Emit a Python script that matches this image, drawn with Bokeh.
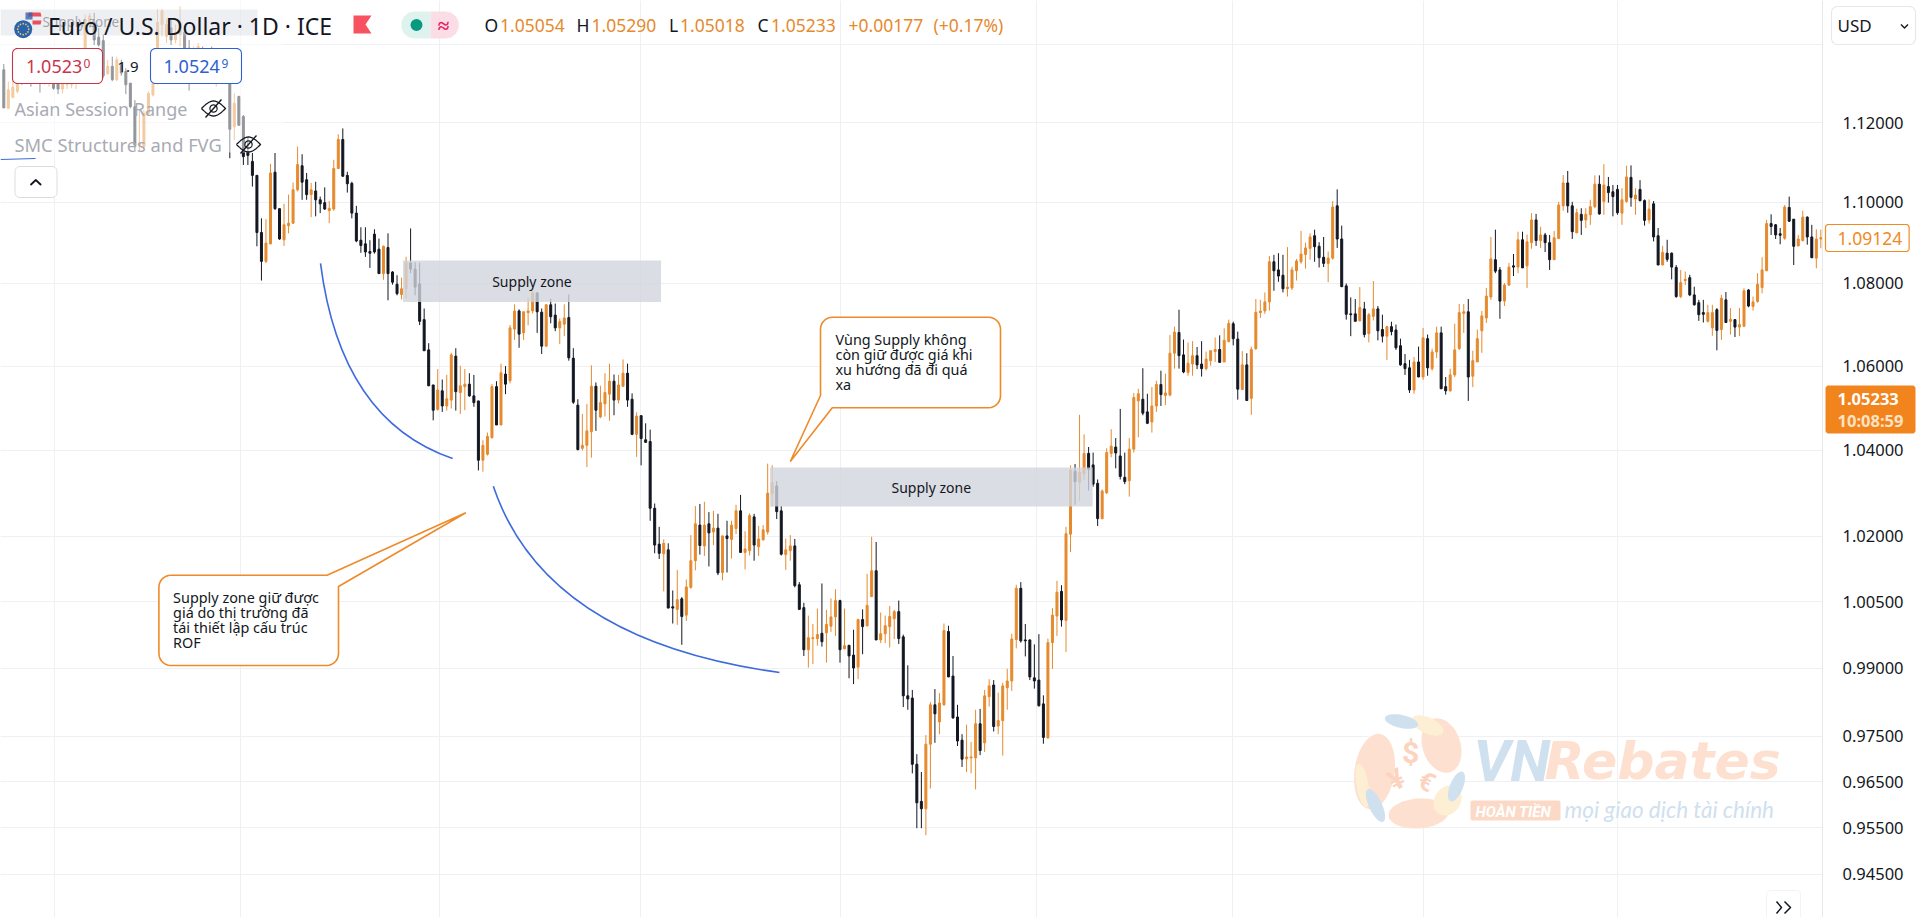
import math
from bokeh.plotting import figure
from bokeh.models import FixedTicker, PrintfTickFormatter, ColumnDataSource
from bokeh.core.properties import value
from bokeh.embed import file_html
from bokeh.resources import INLINE

# ---------- data ----------
opens = [
1.1334,1.1236,1.1264,1.1279,1.1330,1.1309,1.1321,1.1309,1.1321,1.1305,
1.1300,1.1313,1.1309,1.1285,1.1296,1.1296,1.1300,1.1317,1.1368,1.1456,
1.1456,1.1418,1.1409,1.1324,1.1343,1.1309,1.1347,1.1330,1.1300,1.1240,
1.1143,1.1139,1.1223,1.1270,1.1300,1.1451,1.1420,1.1442,1.1411,1.1425,
1.1431,1.1390,1.1364,1.1377,1.1386,1.1351,1.1377,1.1330,1.1343,1.1334,
1.1343,1.1189,1.1266,1.1215,1.1127,1.1102,1.1067,1.0925,1.0854,1.0897,
1.1075,1.0984,1.0907,1.0942,1.0948,1.1031,1.1091,1.1056,1.1019,1.1028,
1.1006,1.0999,1.0979,1.0983,1.1084,1.1157,1.1067,1.1047,1.0973,1.0906,
1.0897,1.0878,1.0921,1.0884,1.0824,1.0888,1.0828,1.0798,1.0773,1.0787,
1.0850,1.0835,1.0799,1.0712,1.0639,1.0555,1.0497,1.0541,1.0505,1.0519,
1.0624,1.0537,1.0551,1.0557,1.0529,1.0517,1.0377,1.0391,1.0430,1.0551,
1.0460,1.0581,1.0565,1.0689,1.0733,1.0680,1.0729,1.0733,1.0777,1.0730,
1.0648,1.0748,1.0723,1.0692,1.0701,1.0717,1.0619,1.0507,1.0405,1.0412,
1.0444,1.0552,1.0479,1.0510,1.0533,1.0564,1.0519,1.0552,1.0583,1.0521,
1.0438,1.0482,1.0425,1.0421,1.0265,1.0182,1.0160,1.0169,1.0039,1.0033,
1.0057,1.0020,1.0083,1.0144,1.0226,1.0178,1.0229,1.0210,1.0219,1.0117,
1.0201,1.0193,1.0218,1.0259,1.0163,1.0167,1.0245,1.0176,1.0192,1.0210,
1.0299,1.0317,1.0259,1.0158,1.0167,1.0178,1.0089,1.0037,0.9942,0.9967,
0.9967,0.9979,0.9980,0.9995,1.0016,1.0053,0.9944,0.9952,0.9930,0.9903,
1.0010,0.9996,1.0062,1.0121,0.9964,0.9978,0.9994,1.0012,1.0028,0.9971,
0.9839,0.9834,0.9688,0.9607,0.9591,0.9732,0.9819,0.9781,0.9819,0.9983,
0.9883,0.9792,0.9741,0.9700,0.9702,0.9702,0.9777,0.9735,0.9837,0.9863,
0.9772,0.9784,0.9857,0.9872,0.9965,1.0081,0.9964,0.9964,0.9879,0.9874,
0.9821,0.9746,0.9958,1.0018,1.0074,1.0008,1.0205,1.0351,1.0325,1.0345,
1.0393,1.0366,1.0323,1.0241,1.0301,1.0393,1.0408,1.0387,1.0337,1.0329,
1.0403,1.0517,1.0521,1.0491,1.0467,1.0505,1.0556,1.0530,1.0531,1.0631,
1.0681,1.0627,1.0585,1.0605,1.0625,1.0605,1.0594,1.0613,1.0635,1.0640,
1.0610,1.0659,1.0702,1.0665,1.0544,1.0603,1.0523,1.0642,1.0729,1.0733,
1.0755,1.0853,1.0833,1.0820,1.0787,1.0789,1.0831,1.0853,1.0871,1.0886,
1.0917,1.0891,1.0864,1.0849,1.0862,1.0991,1.0909,1.0794,1.0726,1.0726,
1.0709,1.0738,1.0678,1.0720,1.0738,1.0688,1.0672,1.0695,1.0687,1.0649,
1.0606,1.0596,1.0543,1.0610,1.0574,1.0666,1.0594,1.0634,1.0680,1.0551,
1.0541,1.0579,1.0642,1.0727,1.0731,1.0576,1.0610,1.0685,1.0716,1.0767,
1.0858,1.0833,1.0757,1.0796,1.0843,1.0840,1.0907,1.0843,1.0900,1.0956,
1.0905,1.0919,1.0900,1.0858,1.0910,1.0991,1.1048,1.0991,1.0924,1.0970,
1.0956,1.0969,1.0989,1.1045,1.1002,1.1039,1.1026,1.1032,1.0973,1.1002,
1.1062,1.1008,1.1032,1.1004,1.0956,1.0996,1.0917,1.0845,1.0874,1.0874,
1.0839,1.0768,1.0807,1.0814,1.0772,1.0753,1.0729,1.0708,1.0692,1.0736,
1.0688,1.0760,1.0708,1.0712,1.0694,1.0696,1.0784,1.0744,1.0756,1.0790,
1.0831,1.0947,1.0944,1.0922,1.0911,1.0987,1.0958,1.0892,1.0905,1.0963,
1.0914,1.0862,1.0909]
highs = [
1.1349,1.1304,1.1309,1.1313,1.1343,1.1338,1.1334,1.1338,1.1334,1.1343,
1.1330,1.1326,1.1321,1.1321,1.1321,1.1334,1.1343,1.1386,1.1477,1.1481,
1.1481,1.1442,1.1425,1.1360,1.1368,1.1368,1.1360,1.1338,1.1300,1.1257,
1.1232,1.1232,1.1279,1.1304,1.1490,1.1491,1.1464,1.1464,1.1451,1.1498,
1.1438,1.1411,1.1394,1.1403,1.1394,1.1390,1.1394,1.1368,1.1364,1.1373,
1.1351,1.1274,1.1268,1.1219,1.1163,1.1123,1.1067,1.0960,1.0958,1.1096,
1.1123,1.0984,1.0996,1.1019,1.1049,1.1139,1.1120,1.1073,1.1048,1.1051,
1.1014,1.1037,1.1003,1.1106,1.1170,1.1185,1.1076,1.1051,1.0991,1.0938,
1.0938,1.0906,1.0933,1.0910,1.0893,1.0923,1.0830,1.0820,1.0814,1.0865,
1.0935,1.0852,1.0851,1.0739,1.0655,1.0555,1.0593,1.0568,1.0579,1.0632,
1.0643,1.0601,1.0593,1.0583,1.0579,1.0517,1.0424,1.0442,1.0557,1.0564,
1.0606,1.0600,1.0699,1.0749,1.0737,1.0731,1.0765,1.0789,1.0777,1.0739,
1.0749,1.0763,1.0751,1.0715,1.0749,1.0773,1.0643,1.0521,1.0486,1.0510,
1.0602,1.0561,1.0553,1.0583,1.0606,1.0580,1.0579,1.0616,1.0606,1.0535,
1.0490,1.0482,1.0464,1.0449,1.0276,1.0222,1.0193,1.0184,1.0076,1.0123,
1.0061,1.0101,1.0203,1.0270,1.0275,1.0280,1.0256,1.0259,1.0252,1.0201,
1.0236,1.0236,1.0273,1.0296,1.0212,1.0253,1.0252,1.0224,1.0226,1.0369,
1.0365,1.0328,1.0270,1.0195,1.0203,1.0194,1.0095,1.0048,1.0019,1.0000,
1.0035,1.0092,1.0032,1.0058,1.0079,1.0055,1.0035,0.9952,0.9987,1.0012,
1.0033,1.0114,1.0199,1.0187,1.0026,1.0019,1.0041,1.0032,1.0053,0.9976,
0.9907,0.9852,0.9710,0.9671,0.9752,0.9825,0.9854,0.9845,1.0001,0.9996,
0.9928,0.9819,0.9754,0.9775,0.9737,0.9808,0.9810,0.9852,0.9876,0.9874,
0.9846,0.9868,0.9899,0.9978,1.0089,1.0095,1.0000,0.9965,0.9954,0.9977,
0.9840,0.9967,1.0036,1.0098,1.0088,1.0222,1.0365,1.0368,1.0484,1.0438,
1.0408,1.0395,1.0332,1.0309,1.0405,1.0450,1.0429,1.0498,1.0395,1.0429,
1.0536,1.0546,1.0595,1.0534,1.0550,1.0565,1.0589,1.0582,1.0675,1.0695,
1.0736,1.0664,1.0657,1.0660,1.0646,1.0660,1.0635,1.0637,1.0669,1.0674,
1.0691,1.0712,1.0707,1.0683,1.0636,1.0631,1.0647,1.0762,1.0760,1.0778,
1.0867,1.0870,1.0874,1.0870,1.0889,1.0841,1.0860,1.0929,1.0900,1.0923,
1.0932,1.0901,1.0914,1.0878,1.1003,1.1032,1.0942,1.0800,1.0766,1.0762,
1.0791,1.0755,1.0728,1.0806,1.0745,1.0724,1.0697,1.0707,1.0700,1.0666,
1.0629,1.0615,1.0622,1.0647,1.0692,1.0676,1.0642,1.0695,1.0695,1.0574,
1.0594,1.0702,1.0750,1.0750,1.0762,1.0637,1.0688,1.0733,1.0789,1.0914,
1.0932,1.0840,1.0801,1.0850,1.0872,1.0927,1.0927,1.0920,1.0973,1.0971,
1.0939,1.0924,1.0919,1.0929,1.1001,1.1068,1.1078,1.1001,1.0984,1.0985,
1.0985,1.1006,1.1067,1.1067,1.1095,1.1063,1.1043,1.1043,1.1035,1.1091,
1.1092,1.1035,1.1055,1.1007,1.1007,1.1003,1.0936,1.0892,1.0907,1.0876,
1.0845,1.0833,1.0829,1.0821,1.0792,1.0760,1.0760,1.0748,1.0748,1.0740,
1.0772,1.0779,1.0740,1.0712,1.0740,1.0788,1.0786,1.0768,1.0825,1.0864,
1.0956,1.0970,1.0946,1.0936,1.0993,1.1014,1.0958,1.0919,1.0979,1.0965,
1.0944,1.0933,1.0932]
lows = [
1.1237,1.1234,1.1261,1.1274,1.1296,1.1300,1.1291,1.1300,1.1276,1.1296,
1.1291,1.1283,1.1272,1.1274,1.1285,1.1287,1.1285,1.1313,1.1364,1.1442,
1.1398,1.1394,1.1313,1.1321,1.1305,1.1305,1.1319,1.1272,1.1236,1.1131,
1.1127,1.1138,1.1219,1.1266,1.1296,1.1420,1.1403,1.1398,1.1402,1.1394,
1.1386,1.1281,1.1351,1.1360,1.1343,1.1330,1.1330,1.1291,1.1321,1.1326,
1.1110,1.1156,1.1192,1.1093,1.1093,1.1039,1.0891,1.0807,1.0850,1.0896,
1.0981,1.0907,1.0892,1.0923,1.0946,1.1027,1.1006,1.1006,1.0963,1.0965,
1.0973,1.0981,1.0948,1.0979,1.1083,1.1063,1.1024,1.0960,1.0901,1.0875,
1.0865,1.0838,1.0873,1.0824,1.0809,1.0759,1.0797,1.0771,1.0761,1.0763,
1.0825,1.0771,1.0699,1.0637,1.0553,1.0471,1.0494,1.0491,1.0494,1.0499,
1.0494,1.0486,1.0495,1.0527,1.0503,1.0353,1.0350,1.0388,1.0428,1.0460,
1.0460,1.0533,1.0559,1.0663,1.0644,1.0663,1.0698,1.0727,1.0680,1.0629,
1.0647,1.0703,1.0684,1.0653,1.0672,1.0613,1.0510,1.0400,1.0400,1.0361,
1.0383,1.0446,1.0476,1.0480,1.0470,1.0483,1.0511,1.0551,1.0503,1.0436,
1.0385,1.0365,1.0418,1.0236,1.0161,1.0148,1.0074,1.0036,1.0001,0.9998,
0.9953,1.0007,1.0080,1.0122,1.0158,1.0155,1.0131,1.0180,1.0111,1.0099,
1.0117,1.0149,1.0205,1.0163,1.0124,1.0156,1.0144,1.0155,1.0190,1.0204,
1.0269,1.0240,1.0156,1.0123,1.0144,1.0083,1.0033,0.9928,0.9902,0.9910,
0.9951,0.9949,0.9913,0.9982,0.9973,0.9913,0.9943,0.9878,0.9865,0.9876,
0.9932,0.9994,1.0062,0.9964,0.9957,0.9957,0.9947,0.9966,0.9955,0.9814,
0.9808,0.9668,0.9549,0.9549,0.9534,0.9635,0.9735,0.9754,0.9817,0.9881,
0.9788,0.9728,0.9682,0.9671,0.9668,0.9633,0.9708,0.9715,0.9815,0.9760,
0.9754,0.9707,0.9808,0.9850,0.9945,0.9958,0.9927,0.9874,0.9855,0.9815,
0.9733,0.9744,0.9899,0.9973,0.9994,0.9937,1.0164,1.0273,1.0282,1.0331,
1.0306,1.0315,1.0224,1.0239,1.0298,1.0384,1.0358,1.0332,1.0321,1.0292,
1.0395,1.0431,1.0483,1.0462,1.0442,1.0491,1.0505,1.0507,1.0528,1.0594,
1.0594,1.0583,1.0577,1.0577,1.0593,1.0575,1.0590,1.0601,1.0610,1.0609,
1.0610,1.0657,1.0650,1.0520,1.0544,1.0518,1.0484,1.0639,1.0716,1.0726,
1.0734,1.0782,1.0804,1.0778,1.0768,1.0784,1.0807,1.0848,1.0836,1.0858,
1.0853,1.0839,1.0840,1.0803,1.0858,1.0887,1.0792,1.0712,1.0672,1.0708,
1.0708,1.0669,1.0657,1.0710,1.0662,1.0657,1.0615,1.0674,1.0639,1.0601,
1.0579,1.0536,1.0534,1.0574,1.0567,1.0577,1.0589,1.0619,1.0546,1.0532,
1.0539,1.0574,1.0639,1.0680,1.0517,1.0550,1.0610,1.0632,1.0704,1.0760,
1.0825,1.0714,1.0745,1.0794,1.0818,1.0825,1.0838,1.0789,1.0885,1.0892,
1.0887,1.0877,1.0833,1.0858,1.0910,1.0979,1.0974,1.0909,1.0924,1.0919,
1.0936,1.0944,1.0985,1.0969,1.0969,1.0999,1.0965,1.0969,1.0944,1.0999,
1.0989,1.0969,1.1002,1.0942,1.0947,1.0903,1.0845,1.0845,1.0853,1.0810,
1.0765,1.0764,1.0796,1.0769,1.0746,1.0709,1.0705,1.0705,1.0673,1.0638,
1.0663,1.0705,1.0676,1.0670,1.0672,1.0694,1.0742,1.0734,1.0753,1.0776,
1.0830,1.0919,1.0909,1.0896,1.0907,1.0951,1.0845,1.0891,1.0903,1.0895,
1.0862,1.0837,1.0886]
closes = [
1.1237,1.1283,1.1290,1.1300,1.1305,1.1330,1.1305,1.1321,1.1300,1.1330,
1.1317,1.1287,1.1285,1.1300,1.1309,1.1313,1.1321,1.1368,1.1464,1.1473,
1.1411,1.1398,1.1319,1.1343,1.1309,1.1360,1.1326,1.1296,1.1240,1.1143,
1.1148,1.1223,1.1274,1.1300,1.1456,1.1486,1.1451,1.1411,1.1429,1.1456,
1.1390,1.1368,1.1386,1.1394,1.1360,1.1377,1.1343,1.1347,1.1351,1.1360,
1.1183,1.1249,1.1193,1.1114,1.1117,1.1067,1.0925,1.0854,1.0899,1.1073,
1.0984,1.0909,1.0944,1.0948,1.1031,1.1094,1.1050,1.1019,1.1031,1.1006,
1.0996,1.0983,1.0985,1.1084,1.1157,1.1065,1.1046,1.0973,1.0904,1.0893,
1.0877,1.0874,1.0877,1.0824,1.0891,1.0824,1.0803,1.0775,1.0787,1.0852,
1.0835,1.0791,1.0708,1.0637,1.0553,1.0495,1.0543,1.0505,1.0522,1.0627,
1.0539,1.0553,1.0557,1.0529,1.0513,1.0377,1.0412,1.0433,1.0551,1.0460,
1.0584,1.0557,1.0692,1.0733,1.0677,1.0731,1.0733,1.0777,1.0731,1.0648,
1.0748,1.0719,1.0692,1.0707,1.0716,1.0620,1.0514,1.0402,1.0412,1.0446,
1.0552,1.0495,1.0513,1.0537,1.0564,1.0519,1.0555,1.0583,1.0519,1.0438,
1.0481,1.0428,1.0419,1.0265,1.0180,1.0161,1.0184,1.0036,1.0036,1.0055,
1.0017,1.0084,1.0144,1.0229,1.0179,1.0226,1.0208,1.0219,1.0116,1.0201,
1.0195,1.0226,1.0259,1.0163,1.0171,1.0248,1.0180,1.0194,1.0215,1.0300,
1.0324,1.0257,1.0159,1.0169,1.0178,1.0087,1.0033,0.9942,0.9969,0.9969,
0.9976,0.9960,0.9999,1.0016,1.0053,0.9942,0.9951,0.9928,0.9901,1.0010,
0.9994,1.0042,1.0121,0.9964,0.9978,0.9996,1.0017,1.0028,0.9967,0.9839,
0.9832,0.9688,0.9604,0.9591,0.9732,0.9819,0.9799,0.9823,0.9985,0.9881,
0.9790,0.9739,0.9699,0.9704,0.9704,0.9777,0.9718,0.9839,0.9861,0.9771,
0.9784,0.9861,0.9872,0.9966,1.0081,0.9962,0.9962,0.9881,0.9872,0.9817,
0.9747,0.9958,1.0020,1.0072,1.0009,1.0206,1.0354,1.0327,1.0349,1.0393,
1.0356,1.0321,1.0241,1.0305,1.0395,1.0410,1.0394,1.0339,1.0327,1.0403,
1.0525,1.0534,1.0488,1.0464,1.0505,1.0556,1.0532,1.0536,1.0631,1.0682,
1.0625,1.0586,1.0607,1.0625,1.0603,1.0594,1.0617,1.0637,1.0640,1.0609,
1.0662,1.0703,1.0666,1.0545,1.0603,1.0518,1.0640,1.0730,1.0733,1.0755,
1.0853,1.0831,1.0818,1.0787,1.0791,1.0833,1.0855,1.0872,1.0887,1.0914,
1.0890,1.0863,1.0849,1.0862,1.0988,1.0909,1.0792,1.0725,1.0724,1.0708,
1.0741,1.0676,1.0724,1.0738,1.0685,1.0672,1.0695,1.0683,1.0644,1.0603,
1.0594,1.0543,1.0610,1.0574,1.0668,1.0596,1.0634,1.0680,1.0546,1.0541,
1.0579,1.0639,1.0729,1.0731,1.0574,1.0613,1.0666,1.0721,1.0769,1.0860,
1.0830,1.0757,1.0796,1.0840,1.0840,1.0907,1.0838,1.0902,1.0956,1.0905,
1.0919,1.0900,1.0858,1.0912,1.0993,1.1048,1.0991,1.0927,1.0974,1.0955,
1.0970,1.0989,1.1045,1.0971,1.1043,1.1024,1.1014,1.0974,1.1006,1.1063,
1.1012,1.1018,1.1004,1.0955,1.0983,1.0914,1.0845,1.0876,1.0859,1.0840,
1.0768,1.0802,1.0810,1.0772,1.0748,1.0724,1.0725,1.0729,1.0729,1.0686,
1.0764,1.0705,1.0713,1.0694,1.0700,1.0782,1.0745,1.0755,1.0798,1.0833,
1.0947,1.0940,1.0919,1.0918,1.0988,1.0953,1.0891,1.0909,1.0963,1.0914,
1.0863,1.0909,1.0912]

price_ticks = [1.12, 1.10, 1.08, 1.06, 1.04, 1.02, 1.005, 0.99, 0.975, 0.965, 0.955, 0.945]
grid_prices = [1.14] + price_ticks
date_grid = [11.2, 52.4, 96.4, 140.9, 185.1, 228.5, 271.8, 314.1, 357.0]

zone_left = [88.3, 169.5]
zone_right = [145.4, 240.9]
zone_top = [1.0856, 1.0360]
zone_bottom = [1.0755, 1.0269]
zone_label_x = [116.85, 205.2]
zone_label_y = [1.0805, 1.0314]
zone_labels = ["Supply zone", "Supply zone"]

curve_start_x = [70.07, 108.3]
curve_start_y = [1.0849, 1.0316]
curve_ctrl_x = [74.5, 119.8]
curve_ctrl_y = [1.0471, 0.9963]
curve_end_x = [99.3, 171.6]
curve_end_y = [1.0381, 0.9891]

callout1_lines = ["Supply zone giữ được", "giá do thị trường đã", "tái thiết lập cấu trúc", "ROF"]
callout2_lines = ["Vùng Supply không", "còn giữ được giá khi", "xu hướng đã đi quá", "xa"]

assert len(opens) == len(highs) == len(lows) == len(closes), (len(opens), len(highs), len(lows), len(closes))

# ---------- page geometry: arguments of X/Y are pixels of the 1919x917 shot ----------
AXIS_X = 1822
PAGE_W, PAGE_H = 1919, 917
I0, STEP = 3.3, 4.52
def X(px): return (px - I0) / STEP
def Y(py): return 1.12 * math.exp(-(py - 122) / 4425)

UP = "#E68A2E"
DOWN = "#131722"
FONT = "Noto Sans"

p = figure(width=PAGE_W, height=PAGE_H, output_backend="svg", toolbar_location=None,
           x_range=(X(0), X(PAGE_W)), y_range=(Y(PAGE_H), Y(0)),
           y_axis_type="log", y_axis_location="right",
           min_border_left=0, min_border_top=0, min_border_bottom=0, min_border_right=0,
           background_fill_color="white", border_fill_color="white", outline_line_color=None)

p.xaxis.visible = False
p.xgrid.ticker = FixedTicker(ticks=date_grid)
p.xgrid.grid_line_color = "#eff0f3"
p.ygrid.ticker = FixedTicker(ticks=grid_prices)
p.ygrid.grid_line_color = "#eff0f3"
ax = p.yaxis[0]
ax.fixed_location = X(AXIS_X)
ax.ticker = FixedTicker(ticks=price_ticks)
ax.formatter = PrintfTickFormatter(format="%.5f")
ax.major_tick_line_color = None
ax.minor_tick_line_color = None
ax.axis_line_color = "#e6e8ec"
ax.major_label_standoff = 14
ax.major_label_text_font = FONT
ax.major_label_text_font_size = "16.5px"
ax.major_label_text_color = "#131722"

idx = list(range(len(opens)))
colors = [UP if c >= o else DOWN for o, c in zip(opens, closes)]
src = ColumnDataSource(dict(x=idx, o=opens, h=highs, l=lows, c=closes, color=colors,
                            top=[max(a, b) for a, b in zip(opens, closes)],
                            bot=[min(a, b) for a, b in zip(opens, closes)]))
p.segment("x", "h", "x", "l", source=src, line_color="color", line_width=1)
p.vbar(x="x", top="top", bottom="bot", width=0.44, source=src, fill_color="color",
       line_color="color", line_width=1)

# the price-scale strip hides the grid right of the axis
p.quad(left=[X(AXIS_X)], right=[X(PAGE_W)], top=[Y(0)], bottom=[Y(PAGE_H)], fill_color="white", line_color=None)

p.quad(left=zone_left, right=zone_right, top=zone_top, bottom=zone_bottom,
       fill_color="#d1d4dc", fill_alpha=0.8, line_color=None)
p.text(zone_label_x, zone_label_y, text=zone_labels, text_font=value(FONT), text_font_size="14px",
       text_color="#131722", text_align="center", text_baseline="middle")

p.quadratic(x0=curve_start_x, y0=curve_start_y, x1=curve_end_x, y1=curve_end_y,
            cx=curve_ctrl_x, cy=curve_ctrl_y, line_color="#3D6BDC", line_width=1.6)

# ---------- helpers for overlay shapes, all given in shot pixels ----------
def T(px, py, s, color="#131722", size="14px", font=FONT, align="left", style="normal", alpha=1.0, angle=0.0):
    p.text([X(px)], [Y(py)], text=[s], text_font=value(font), text_font_size=size, text_color=color,
           text_align=align, text_baseline="middle", text_font_style=style, text_alpha=alpha, angle=angle)

def corner(cx, cy, r, a0, a1, n=7):
    return [(cx + r * math.cos(math.radians(a0 + (a1 - a0) * k / n)),
             cy + r * math.sin(math.radians(a0 + (a1 - a0) * k / n))) for k in range(n + 1)]

def rrect(l, t, r, b, rad):
    return (corner(l + rad, t + rad, rad, 180, 270) + corner(r - rad, t + rad, rad, 270, 360) +
            corner(r - rad, b - rad, rad, 0, 90) + corner(l + rad, b - rad, rad, 90, 180))

def shape(pts, fill="white", line=None, width=1.0, alpha=1.0):
    pts = pts + [pts[0]]
    p.patch([X(a) for a, _ in pts], [Y(b) for _, b in pts], fill_color=fill, fill_alpha=alpha,
            line_color=line, line_width=width)

def ell(cx, cy, rx, ry, rot=0.0, n=36):
    c, s = math.cos(math.radians(rot)), math.sin(math.radians(rot))
    out = []
    for k in range(n):
        a = 2 * math.pi * k / n
        ex, ey = rx * math.cos(a), ry * math.sin(a)
        out.append((cx + ex * c - ey * s, cy + ex * s + ey * c))
    return out

def pline(pts, color="#131722", width=1.4):
    p.line([X(a) for a, _ in pts], [Y(b) for _, b in pts], line_color=color, line_width=width, line_join="round")

# ---------- callouts ----------
ORANGE_LINE = "#EE8A2A"
c1 = (corner(158.4 + 12, 574.7 + 12, 12, 180, 270) + [(326.5, 574.7), (465.3, 512.3), (338, 586)] +
      corner(338 - 12, 665 - 12, 12, 0, 90) + corner(158.4 + 12, 665 - 12, 12, 90, 180))
shape(c1, line=ORANGE_LINE, width=1.6)
for k, s in enumerate(callout1_lines):
    T(172.6, 596.7 + 15 * k, s, size="14.4px")

c2 = (corner(820 + 12, 316.7 + 12, 12, 180, 270) + corner(1000 - 12, 316.7 + 12, 12, 270, 360) +
      corner(1000 - 12, 407.3 - 12, 12, 0, 90) + [(831.8, 407.3), (789.8, 461), (820, 395)])
shape(c2, line=ORANGE_LINE, width=1.6)
for k, s in enumerate(callout2_lines):
    T(835, 339 + 15 * k, s, size="14.4px")

# ---------- top-left legend: wash over the candles ----------
p.quad(left=[X(0)], right=[X(284)], top=[Y(0)], bottom=[Y(152)], fill_color="white", fill_alpha=0.55, line_color=None)
p.quad(left=[X(0)], right=[X(257)], top=[Y(9)], bottom=[Y(35)], fill_color="#d1d4dc", fill_alpha=0.38, line_color=None)
pline([(0, 159), (35, 158)], "#3D6BDC", 1.2)
T(42, 21, "Supply zone", color="#8f939c", size="13.5px", alpha=0.8)

# flags
p.scatter([X(32.5)], [Y(19.5)], size=17, fill_color="#e8edf6", line_color=None)
shape([(28, 12), (40, 12), (41, 16), (28, 16)], fill="#e8505b")
shape([(32, 20), (41, 20), (40, 24), (32, 24)], fill="#e8505b")
shape([(25, 12), (32, 12), (32, 19), (25, 19)], fill="#3b5fa8", alpha=0.8)
p.scatter([X(22.7)], [Y(28.7)], size=18, fill_color="#2962AE", line_color=None)
for k in range(12):
    a = 2 * math.pi * k / 12
    p.scatter([X(22.7 + 5.5 * math.cos(a))], [Y(28.7 + 5.5 * math.sin(a))], size=1.7, fill_color="#F2C94C", line_color=None)

T(47.5, 25, "Euro / U.S. Dollar · 1D · ICE", size="23px")
shape([(353, 15), (371, 15), (365, 24), (371, 33), (353, 33)], fill="#F7525F")

# status pill
shape(corner(414, 24.5, 13.5, 90, 270) + [(430, 11), (430, 38)], fill="#DFF3EE")
shape([(430, 11)] + corner(445, 24.5, 13.5, 270, 450) + [(430, 38)], fill="#FBDDE6")
p.scatter([X(416)], [Y(24.5)], size=12, fill_color="#089981", line_color=None)
T(443, 24, "≈", color="#E91E63", size="21px", align="center", style="bold")

# OHLC row
for px, s, col in [(484, "O", DOWN), (499.5, "1.05054", UP), (576, "H", DOWN), (591, "1.05290", UP),
                   (668.5, "L", DOWN), (679.5, "1.05018", UP), (757, "C", DOWN), (770.5, "1.05233", UP),
                   (848, "+0.00177", UP), (933, "(+0.17%)", UP)]:
    T(px, 24.5, s, color=col, size="17.5px")

# price chips
shape(rrect(12, 48, 102, 83, 5), line="#C9344A", width=1.1)
T(25.5, 65.5, "1.0523", color="#C9344A", size="18px")
T(83, 63, "0", color="#C9344A", size="12px")
shape(rrect(150, 48, 241, 83, 5), line="#2F5FD0", width=1.1)
T(163, 65.5, "1.0524", color="#2F5FD0", size="18px")
T(221, 63, "9", color="#2F5FD0", size="12px")
T(117, 66, "1.9", size="15px")

def eye(cx, cy):
    top = [(cx + 12 * k / 8, cy - 7.5 * math.cos(math.pi * k / 16)) for k in range(-8, 9)]
    bot = [(cx + 12 * k / 8, cy + 7.5 * math.cos(math.pi * k / 16)) for k in range(8, -9, -1)]
    pline(top + bot, width=1.3)
    pline(ell(cx, cy, 3.6, 3.6) + [(cx + 3.6, cy)], width=1.2)
    pline([(cx - 8, cy + 9), (cx + 8, cy - 9)], width=1.4)

T(14, 108, "Asian Session Range", color="#A8ABB3", size="18px")
eye(213, 108)
T(14, 144, "SMC Structures and FVG", color="#A8ABB3", size="18.3px")
eye(248, 144)

shape(rrect(14.5, 166, 56.5, 197, 5), line="#DADCE2", width=1.0)
pline([(30, 184.5), (35.3, 179.5), (40.6, 184.5)], width=1.8)

# bottom-right scroll button
shape(rrect(1766, 890, 1800, 930, 4), line="#F2F3F5", width=1.0)
pline([(1776, 901), (1781, 907), (1776, 913)], width=1.5)
pline([(1784, 901), (1790, 907), (1784, 913)], width=1.5)

# ---------- watermark ----------
PEACH = "#FDE0CF"
BLUE = "#CFE0EF"
YEL = "#FDEFD3"
shape(ell(1410, 771, 53, 56), fill="#FFFFFF")
shape(ell(1374, 771, 20, 38, 8), fill=PEACH)
shape(ell(1362, 785, 6, 22, -10), fill=YEL)
shape(ell(1441, 745, 19, 28, -18), fill=PEACH)
shape(ell(1427, 725, 17, 8, 25), fill=YEL)
shape(ell(1418, 813, 30, 15, -4), fill=PEACH)
shape(ell(1447, 800, 13, 16, 35), fill=YEL)
shape(ell(1401, 721, 17, 6.5, 12), fill=BLUE)
shape(ell(1375, 805, 6.5, 18, -25), fill=BLUE)
shape(ell(1456, 786, 6.5, 16, 22), fill=BLUE)
T(1410, 752, "$", color="#FBD3BE", size="30px", align="center", style="bold", font="Roboto")
T(1396, 779, "¥", color="#FBD3BE", size="28px", align="center", style="bold", font="Roboto", angle=0.5)
T(1426, 781, "€", color="#FBD3BE", size="26px", align="center", style="bold", font="Roboto", angle=-0.5)
T(1473, 760, "VN", color=BLUE, size="58px", style="bold italic", font="Roboto")
T(1544, 760, "Rebates", color=PEACH, size="52px", style="bold italic", font="DejaVu Sans")
shape(rrect(1470, 800, 1560, 820, 2), fill="#FBD9C6")
T(1475, 811, "HOÀN TIỀN", color="white", size="15px", style="bold italic", font="Roboto")
T(1564, 809, "mọi giao dịch tài chính", color=BLUE, size="22.5px", style="italic", font="Lato")

# ---------- tags over the price axis ----------
shape(rrect(1825, 224, 1908.6, 251, 3), line="#F08A24", width=1.2)
T(1837, 237.5, "1.09124", color="#F08A24", size="17.5px")
shape(rrect(1825, 385, 1915, 433, 3), fill="#F2841E")
T(1837, 398, "1.05233", color="white", size="16.5px", style="bold")
T(1837, 419.5, "10:08:59", color="#FFE3C4", size="16.5px", style="bold")
shape(rrect(1831, 6, 1915, 44, 6), line="#E6E8EC", width=1.1)
T(1837, 25, "USD", size="17px")
pline([(1900.5, 24), (1904, 27.5), (1907.5, 24)], width=1.4)
T(1837, 922, "0.93500", size="16.5px")

open("out.html", "w").write(file_html(p, INLINE))
